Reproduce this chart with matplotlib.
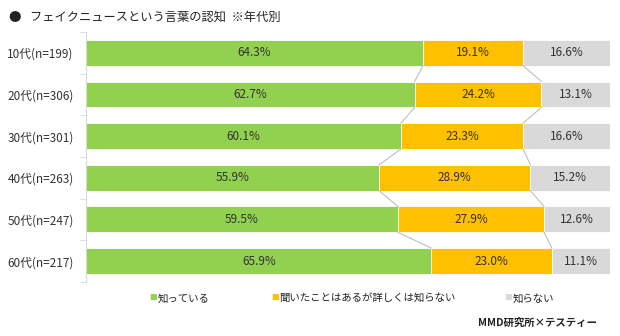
import matplotlib
matplotlib.use('Agg')
import matplotlib.pyplot as plt
import numpy as np

plt.rcParams['font.family'] = ['Noto Sans CJK JP', 'DejaVu Sans']

groups = ['10代(n=199)', '20代(n=306)', '30代(n=301)', '40代(n=263)', '50代(n=247)', '60代(n=217)']
know = [64.3, 62.7, 60.1, 55.9, 59.5, 65.9]
heard = [19.1, 24.2, 23.3, 28.9, 27.9, 23.0]
dont = [16.6, 13.1, 16.6, 15.2, 12.6, 11.1]
series_names = ['知っている', '聞いたことはあるが詳しくは知らない', '知らない']
colors = ['#92D050', '#FFC000', '#D9D9D9']

fig = plt.figure(figsize=(6.2, 3.36), dpi=100)
ax = fig.add_axes([0.139, 0.161, 0.845, 0.744])

y = np.arange(len(groups))
h = 0.62
left = np.zeros(len(groups))
for vals, c in zip([know, heard, dont], colors):
    vals = np.array(vals)
    ax.barh(y, vals, left=left, height=h, color=c, edgecolor='white', linewidth=0.6)
    for yi, l, v in zip(y, left, vals):
        ax.text(l + v / 2, yi, f'{v:.1f}%', ha='center', va='center',
                fontsize=8.5, color='#333333')
    left = left + vals

# series lines between bars
c1 = np.array(know)
c2 = c1 + np.array(heard)
for cum in (c1, c2):
    for i in range(len(groups) - 1):
        ax.plot([cum[i], cum[i + 1]], [y[i] + h / 2, y[i + 1] - h / 2],
                color='#BFBFBF', lw=0.8)

ax.set_xlim(0, 100)
ax.set_ylim(len(groups) - 0.5, -0.5)
ax.set_yticks(y)
ax.set_yticklabels(groups, fontsize=8.5, color='#333333')
ax.set_yticks(np.arange(-0.5, len(groups)), minor=True)
ax.tick_params(axis='y', which='major', length=0, pad=9)
ax.tick_params(axis='y', which='minor', length=4, color='#D9D9D9')
ax.set_xticks([])
for s in ['top', 'right', 'bottom']:
    ax.spines[s].set_visible(False)
ax.spines['left'].set_color('#D9D9D9')

fig.text(0.013, 0.948, '●', fontsize=9, va='center', color='#222222')
fig.text(0.048, 0.948, 'フェイクニュースという言葉の認知  ※年代別', fontsize=8.8,
         va='center', color='#222222')

# legend
leg_x = [0.240, 0.437, 0.813]
for lx, name, c in zip(leg_x, series_names, colors):
    fig.text(lx, 0.112, '■', color=c, fontsize=5.5, va='center')
    fig.text(lx + 0.014, 0.112, name, fontsize=7.5, va='center', color='#222222')

fig.text(0.963, 0.038, 'MMD研究所×テスティー', fontsize=7.5, fontweight='bold',
         ha='right', va='center', color='#222222')

fig.savefig('out.png', dpi=100)
